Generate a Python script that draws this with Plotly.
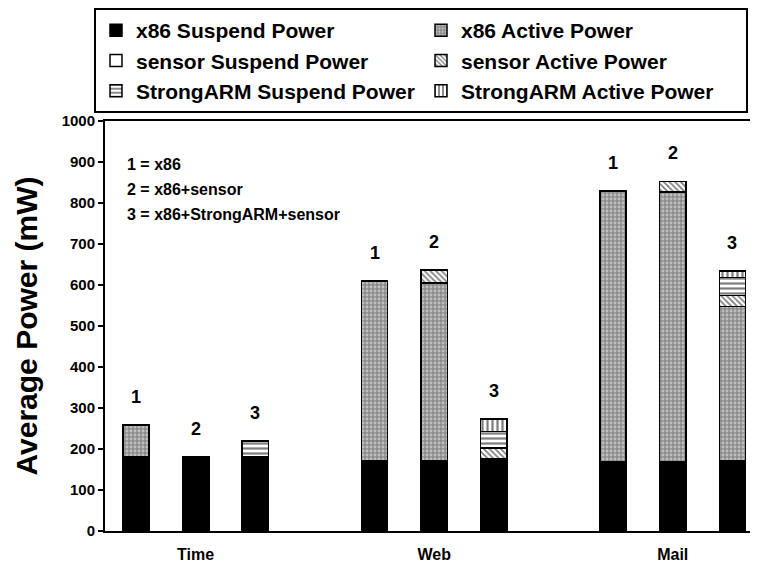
import plotly.graph_objects as go

categories = ["Time", "Web", "Mail"]
configs = ["1", "2", "3"]
config_desc = ["1 = x86", "2 = x86+sensor", "3 = x86+StrongARM+sensor"]

# values per bar, ordered Time(1,2,3), Web(1,2,3), Mail(1,2,3)
x86_suspend = [180, 180, 180, 172, 172, 176, 170, 170, 172]
x86_active = [78, 0, 0, 438, 433, 0, 659, 657, 376]
sensor_suspend = [0, 0, 0, 0, 0, 0, 0, 0, 0]
sensor_active = [0, 0, 0, 0, 31, 26, 0, 26, 26]
strongarm_suspend = [0, 0, 40, 0, 0, 41, 0, 0, 44]
strongarm_active = [0, 0, 0, 0, 0, 30, 0, 0, 16]

series = [
    ("x86 Suspend Power", x86_suspend, dict(color="black")),
    ("x86 Active Power", x86_active,
     dict(color="#8c8c8c", pattern=dict(shape=".", fgcolor="#f2f2f2", bgcolor="#8c8c8c", size=4, solidity=0.4))),
    ("sensor Suspend Power", sensor_suspend, dict(color="white")),
    ("sensor Active Power", sensor_active,
     dict(color="white", pattern=dict(shape="\\", fgcolor="black", bgcolor="white", size=4, solidity=0.45))),
    ("StrongARM Suspend Power", strongarm_suspend,
     dict(color="white", pattern=dict(shape="-", fgcolor="black", bgcolor="white", size=5, solidity=0.45))),
    ("StrongARM Active Power", strongarm_active,
     dict(color="white", pattern=dict(shape="|", fgcolor="black", bgcolor="white", size=5, solidity=0.45))),
]

n_cfg = len(configs)
xpos = [g * (n_cfg + 1) + c for g in range(len(categories)) for c in range(n_cfg)]
labels = [configs[c] for g in range(len(categories)) for c in range(n_cfg)]
centers = [g * (n_cfg + 1) + (n_cfg - 1) / 2 for g in range(len(categories))]

FONT = "Liberation Sans, Arial, Helvetica, sans-serif"

fig = go.Figure()
for name, vals, marker in series:
    m = dict(marker)
    m["line"] = dict(color="black", width=1.5)
    fig.add_trace(go.Bar(x=xpos, y=vals, name=name, marker=m, width=0.44))

totals = [sum(s[1][i] for s in series) for i in range(len(xpos))]
for xi, tot, lab in zip(xpos, totals, labels):
    fig.add_annotation(x=xi, y=tot, text=lab, showarrow=False, yshift=28,
                       font=dict(family=FONT, size=18, color="black", weight="bold"))

for i, txt in enumerate(config_desc):
    fig.add_annotation(x=0.03, xref="paper", y=893 - i * 61, yref="y", text=txt,
                       showarrow=False, xanchor="left",
                       font=dict(family=FONT, size=16, color="black", weight="bold"))

fig.update_layout(
    width=758, height=564,
    margin=dict(l=97, r=5, t=113, b=41, autoexpand=False),
    barmode="stack",
    plot_bgcolor="white", paper_bgcolor="white",
    font=dict(family=FONT, color="black"),
    showlegend=True,
    legend=dict(
        orientation="h", xref="container", yref="container",
        x=86 / 758, xanchor="left", y=1, yanchor="top",
        entrywidth=280, entrywidthmode="pixels",
        bordercolor="black", borderwidth=2, bgcolor="white",
        font=dict(family=FONT, size=21, color="black", weight="bold"),
        traceorder="normal",
    ),
)
fig.update_xaxes(
    range=[-0.52, 10.48], tickvals=centers, ticktext=categories,
    showline=True, linecolor="black", linewidth=2, mirror=True,
    ticks="", showgrid=False, zeroline=False, ticklabelstandoff=8,
    tickfont=dict(family=FONT, size=16, color="black", weight="bold"),
)
fig.update_yaxes(
    range=[0, 1000], dtick=100, showline=True, linecolor="black", linewidth=2,
    mirror=True, ticks="outside", ticklen=5, tickwidth=1.5, tickcolor="black",
    showgrid=False, zeroline=False,
    tickfont=dict(family=FONT, size=15, color="black", weight="bold"),
    title=dict(text="Average Power (mW)", standoff=15,
               font=dict(family=FONT, size=30, color="black", weight="bold")),
)

fig.write_html("out.html")
